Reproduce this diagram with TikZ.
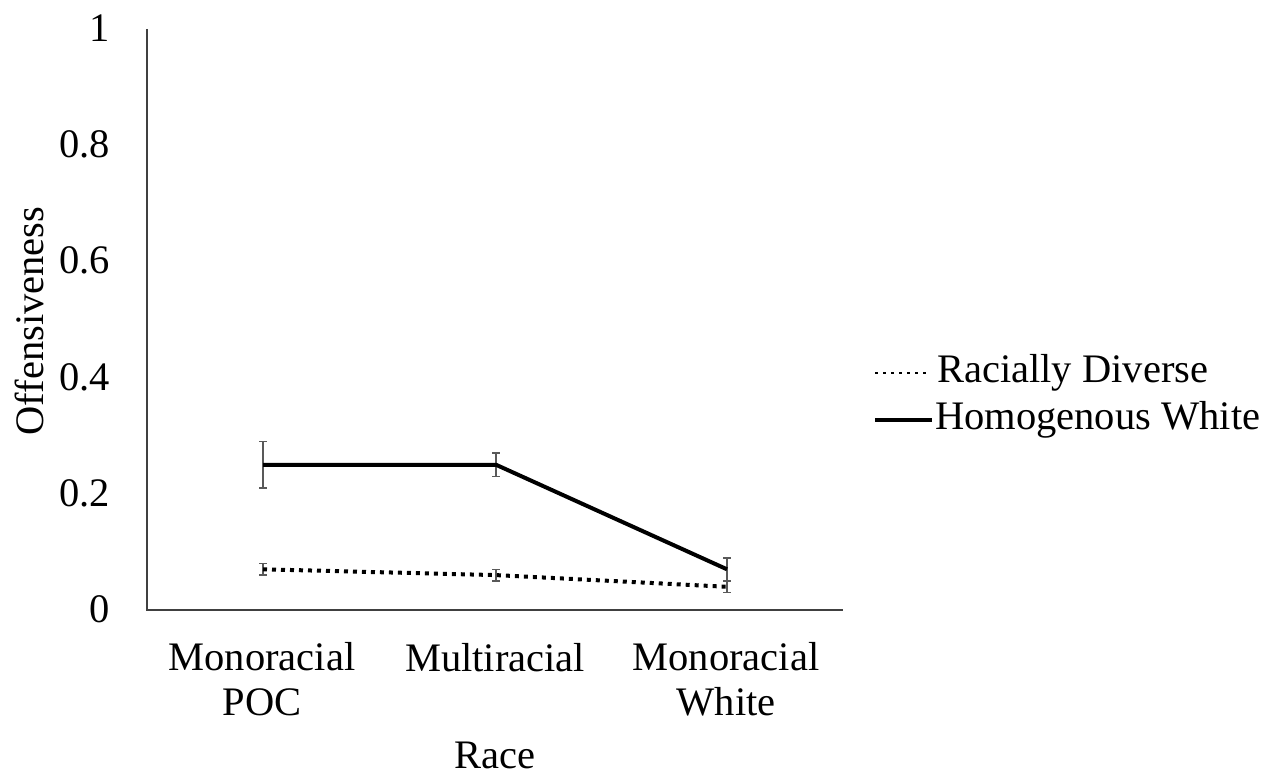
\documentclass[tikz,border=0pt]{standalone}
\usepackage{fontspec}
\setmainfont{Liberation Serif}
\newcommand\errbar[3]{\draw[errline] (#1-4,#2) -- (#1+4,#2) (#1,#2) -- (#1,#3) (#1-4,#3) -- (#1+4,#3);}
\begin{document}
\begin{tikzpicture}[x=1pt,y=-1pt,
  lab/.style={inner sep=0pt, font=\fontsize{40.5}{45}\selectfont},
  axisline/.style={draw=black!75, line width=2pt},
  errline/.style={draw=black!65, line width=1.6pt},
  hwline/.style={draw=black, line width=4pt},
  rdline/.style={draw=black, line width=4pt, dash pattern=on 4pt off 5pt},
  rdlegend/.style={draw=black, line width=2.4pt, dash pattern=on 2.6pt off 5.4pt},
]
\fill[white] (0,0) rectangle (1279,776);
\useasboundingbox (0,0) rectangle (1279,776);

% axes
\coordinate (ytop) at (147,29);
\coordinate (origin) at (147,610);
\coordinate (xend) at (843,610);
\draw[axisline] (ytop) -- (origin) -- (xend);

% tick labels
\node[lab, anchor=base east] (t10) at (110,41.5) {1};
\node[lab, anchor=base east] (t08) at (110,157.7) {0.8};
\node[lab, anchor=base east] (t06) at (110,273.9) {0.6};
\node[lab, anchor=base east] (t04) at (110,390.1) {0.4};
\node[lab, anchor=base east] (t02) at (110,506.3) {0.2};
\node[lab, anchor=base east] (t00) at (110,622.5) {0};

% axis titles
\node[lab, rotate=90, anchor=base] (ytitle) at (43,321) {Offensiveness};
\node[lab, anchor=base] (xtitle) at (495,768) {Race};

% category labels
\node[lab, anchor=north, align=center] (c1) at (262,642.5) {Monoracial\\POC};
\node[lab, anchor=base] (c2) at (495,671) {Multiracial};
\node[lab, anchor=north, align=center] (c3) at (726,642.5) {Monoracial\\White};

% error bars
\errbar{263}{441.5}{488}
\errbar{496}{453.1}{476.4}
\errbar{727}{557.7}{580.9}
\errbar{263}{563.5}{575.1}
\errbar{496}{569.3}{580.9}
\errbar{727}{581}{592.6}

% data points
\coordinate (hwA) at (263,464.75);
\coordinate (hwB) at (496,464.75);
\coordinate (hwC) at (727,569.3);
\coordinate (rdA) at (263,569.3);
\coordinate (rdB) at (496,575.1);
\coordinate (rdC) at (727,586.8);

\draw[rdline] (rdA) -- (rdB) -- (rdC);
\draw[hwline] (hwA) -- (hwB) -- (hwC);

% legend
\coordinate (l1a) at (875,373);
\coordinate (l1b) at (927,373);
\coordinate (l2a) at (875,420);
\coordinate (l2b) at (932,420);
\draw[rdlegend] (l1a) -- (l1b);
\draw[hwline, line width=3.5pt] (l2a) -- (l2b);
\node[lab, anchor=base west] (leg1) at (937,382) {Racially Diverse};
\node[lab, anchor=base west] (leg2) at (935,429) {Homogenous White};
\end{tikzpicture}
\end{document}
